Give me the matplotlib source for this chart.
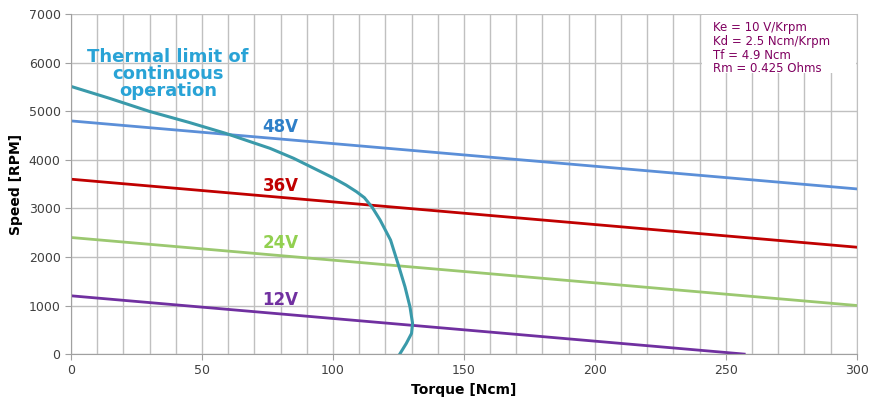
import matplotlib
matplotlib.use("Agg")
import matplotlib.pyplot as plt
from matplotlib.patches import Rectangle
import numpy as np

# speed-torque lines per supply voltage
torque = [0, 300]
speed_48 = [4800, 3400]
speed_36 = [3600, 2200]
speed_24 = [2400, 1000]
speed_12_t = [0, 257]
speed_12 = [1200, 0]

# thermal limit of continuous operation
therm_t = [0, 15, 30, 45, 59, 68, 76, 85, 94, 100, 105, 109, 112, 115, 118, 122, 125, 127.5, 129.4, 130.4, 130, 128, 125.5]
therm_s = [5510, 5260, 4995, 4770, 4545, 4380, 4235, 4030, 3790, 3630, 3480, 3342, 3220, 3020, 2760, 2347, 1832, 1386, 974, 631, 425, 219, 0]

params = ["Ke = 10 V/Krpm", "Kd = 2.5 Ncm/Krpm", "Tf = 4.9 Ncm", "Rm = 0.425 Ohms"]

fig = plt.figure(figsize=(8.69, 4.01), dpi=100)
ax = fig.add_axes([0.0817, 0.117, 0.9043, 0.848])

ax.plot(torque, speed_48, color="#5B8FD8", lw=2)
ax.plot(torque, speed_36, color="#C00000", lw=2)
ax.plot(torque, speed_24, color="#9BC870", lw=2)
ax.plot(speed_12_t, speed_12, color="#7030A0", lw=2)
ax.plot(therm_t, therm_s, color="#3A9AAA", lw=2.2, solid_joinstyle="round")

lab = dict(fontsize=12, fontweight="bold", ha="center", va="center")
ax.text(80, 4670, "48V", color="#2E7FC8", **lab)
ax.text(80, 3460, "36V", color="#C00000", **lab)
ax.text(80, 2285, "24V", color="#92D050", **lab)
ax.text(80, 1110, "12V", color="#7030A0", **lab)
ax.text(37, 5765, "Thermal limit of\ncontinuous\noperation", color="#29A3D6", fontsize=13,
        fontweight="bold", ha="center", va="center", linespacing=0.95)

# white panel behind the motor constants
ax.add_patch(Rectangle((241, 5790), 58.5, 1190, facecolor="white", edgecolor="none", zorder=1))
ax.text(245, 6850, "\n".join(params), color="#800060", fontsize=8.5, va="top", ha="left",
        linespacing=1.06, zorder=3)

ax.set_xlim(0, 300)
ax.set_ylim(0, 7000)
ax.set_xticks(np.arange(0, 301, 50))
ax.set_xticks(np.arange(0, 301, 10), minor=True)
ax.set_yticks(np.arange(0, 7001, 1000))
ax.grid(which="both", color="#C0C0C0", lw=1)
ax.set_axisbelow(True)
ax.tick_params(which="minor", length=0)
ax.tick_params(which="major", length=4, color="#A0A0A0", labelsize=9, labelcolor="#404040")
ax.spines["top"].set_visible(False)
ax.spines["right"].set_color("#C0C0C0")
for s in ["left", "bottom"]:
    ax.spines[s].set_color("#A0A0A0")

ax.set_xlabel("Torque [Ncm]", fontsize=10, fontweight="bold")
ax.set_ylabel("Speed [RPM]", fontsize=10, fontweight="bold")

fig.savefig("out.png", dpi=100)
